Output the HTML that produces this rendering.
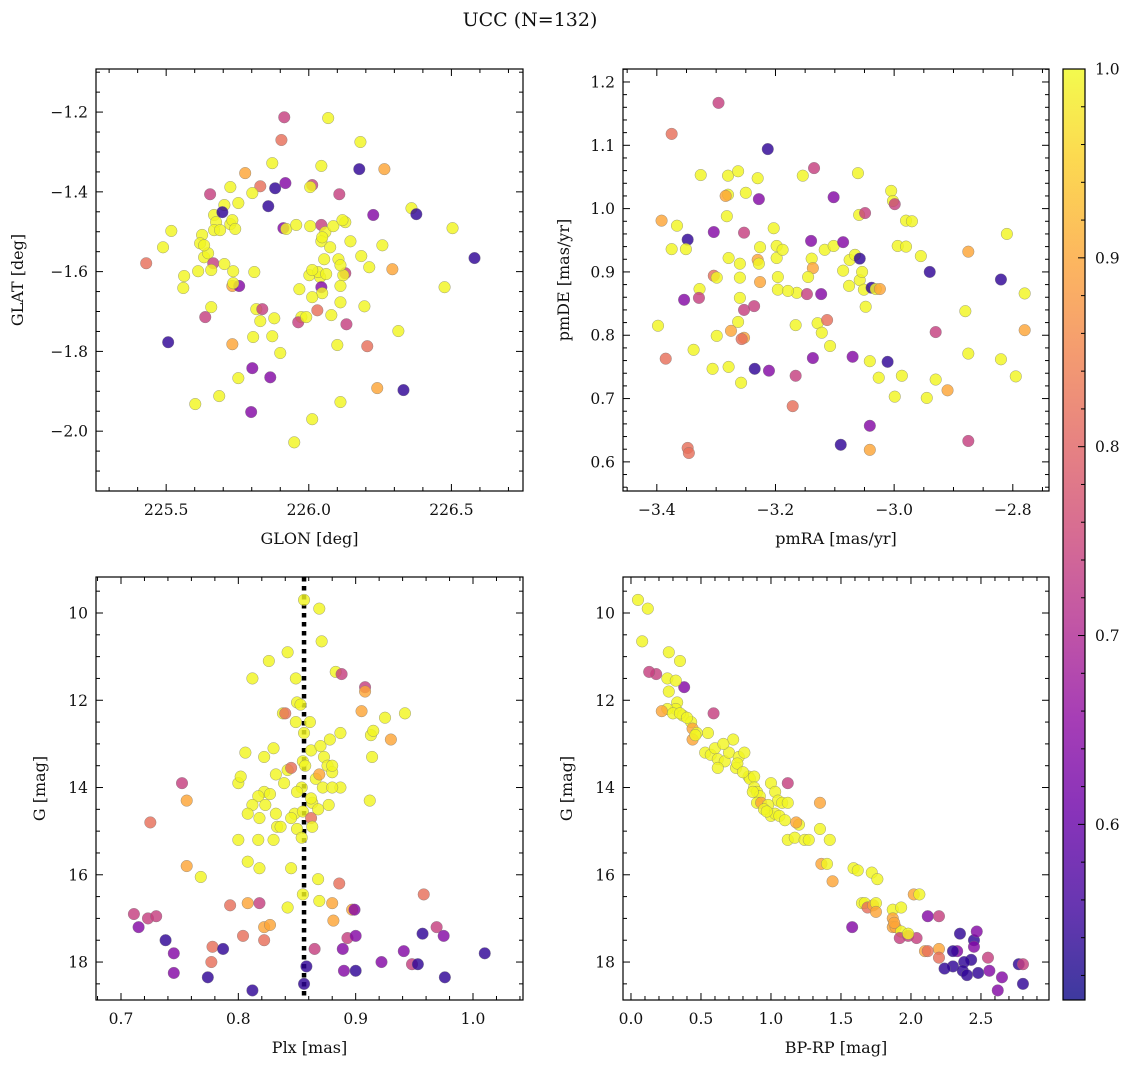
<!DOCTYPE html>
<html><head><meta charset="utf-8">
<style>
html,body{margin:0;padding:0;background:#fff;}
svg text{font-family:"DejaVu Serif","Liberation Serif",serif;fill:#111;}
</style></head>
<body>
<svg id="fig" width="1136" height="1068" viewBox="0 0 1136 1068" xmlns="http://www.w3.org/2000/svg">
<defs>
<linearGradient id="plasma" x1="0" y1="1" x2="0" y2="0">
<stop offset="0" stop-color="#0d0887"/><stop offset="0.1" stop-color="#41049d"/><stop offset="0.2" stop-color="#6a00a8"/><stop offset="0.3" stop-color="#8f0da4"/><stop offset="0.4" stop-color="#b12a90"/><stop offset="0.5" stop-color="#cc4778"/><stop offset="0.6" stop-color="#e16462"/><stop offset="0.7" stop-color="#f2844b"/><stop offset="0.8" stop-color="#fca636"/><stop offset="0.9" stop-color="#fcce25"/><stop offset="1" stop-color="#f0f921"/>
</linearGradient>
</defs>
<text x="530" y="26" font-size="19" text-anchor="middle">UCC (N=132)</text>
</svg>
<script>
// ---------- data (estimated from reference) ----------
const Y=0.995,O=0.9,S=0.82,P=0.74,M=0.64,B=0.54;
const glonVals=[225.914,226.068,225.904,226.181,226.265,226.177,225.872,225.777,225.725,225.830,225.802,225.882,225.918,226.012,226.044,226.107,226.005,225.654,225.753,225.858,225.704,225.668,225.697,225.675,225.725,225.732,225.626,225.619,225.518,225.489,225.633,225.742,226.005,226.044,226.058,226.086,226.128,226.118,226.226,226.360,226.377,225.911,225.921,226.044,226.146,226.258,225.647,225.665,225.658,225.563,225.560,225.612,225.735,225.732,225.756,225.735,225.809,226.002,226.040,226.033,226.054,226.104,226.128,226.121,226.111,226.212,226.184,226.293,226.581,226.504,226.476,225.967,226.044,226.047,226.012,226.111,225.637,225.658,225.816,225.837,225.830,225.879,225.974,225.963,225.991,226.030,226.079,226.195,226.132,225.732,225.805,225.872,226.100,226.205,226.314,225.507,225.753,225.802,225.900,225.865,225.686,225.602,225.798,226.111,226.240,226.332,226.012,225.949,225.430,225.956,226.075,226.012,226.061,225.704,226.047,226.111,225.668,225.689,225.633];
const glatVals=[-1.213,-1.215,-1.270,-1.275,-1.343,-1.343,-1.328,-1.353,-1.388,-1.386,-1.403,-1.391,-1.378,-1.383,-1.335,-1.406,-1.388,-1.406,-1.428,-1.436,-1.433,-1.458,-1.451,-1.476,-1.481,-1.471,-1.508,-1.529,-1.498,-1.539,-1.564,-1.493,-1.486,-1.483,-1.501,-1.486,-1.476,-1.471,-1.458,-1.441,-1.456,-1.491,-1.493,-1.524,-1.524,-1.534,-1.554,-1.579,-1.596,-1.611,-1.641,-1.599,-1.599,-1.636,-1.636,-1.629,-1.601,-1.609,-1.614,-1.601,-1.569,-1.569,-1.604,-1.609,-1.584,-1.589,-1.561,-1.594,-1.566,-1.491,-1.639,-1.644,-1.639,-1.654,-1.664,-1.636,-1.714,-1.689,-1.694,-1.694,-1.724,-1.717,-1.714,-1.727,-1.714,-1.697,-1.709,-1.687,-1.732,-1.782,-1.764,-1.762,-1.784,-1.787,-1.749,-1.777,-1.867,-1.842,-1.804,-1.865,-1.912,-1.932,-1.952,-1.927,-1.892,-1.897,-1.970,-2.028,-1.579,-1.483,-1.539,-1.596,-1.606,-1.581,-1.514,-1.677,-1.496,-1.496,-1.534];
const probA=[P,Y,S,Y,O,B,Y,O,Y,S,Y,B,M,P,Y,P,Y,P,Y,B,Y,Y,B,Y,Y,Y,Y,Y,Y,Y,Y,Y,Y,P,Y,Y,Y,Y,M,Y,B,M,Y,Y,Y,Y,Y,P,Y,Y,Y,Y,Y,O,M,Y,Y,Y,Y,Y,Y,Y,P,Y,Y,Y,Y,O,B,Y,Y,Y,M,Y,Y,Y,P,Y,Y,P,Y,Y,Y,P,Y,S,Y,Y,P,O,Y,Y,Y,S,Y,B,Y,M,Y,M,Y,Y,M,Y,O,B,Y,Y,S,Y,Y,Y,Y,Y,Y,Y,Y,Y,Y];

const pmraVals=[-3.296,-3.375,-3.213,-3.392,-3.366,-3.348,-3.375,-3.351,-3.328,-3.329,-3.354,-3.398,-3.385,-3.338,-3.348,-3.346,-3.306,-3.304,-3.304,-3.299,-3.299,-3.326,-3.280,-3.263,-3.230,-3.280,-3.284,-3.282,-3.279,-3.250,-3.228,-3.203,-3.253,-3.226,-3.230,-3.228,-3.226,-3.260,-3.253,-3.263,-3.253,-3.236,-3.275,-3.260,-3.257,-3.279,-3.258,-3.235,-3.211,-3.260,-3.198,-3.198,-3.196,-3.196,-3.188,-3.164,-3.154,-3.140,-3.139,-3.137,-3.145,-3.147,-3.137,-3.166,-3.171,-3.166,-3.179,-3.129,-3.123,-3.122,-3.113,-3.117,-3.108,-3.102,-3.102,-3.135,-3.086,-3.090,-3.086,-3.075,-3.076,-3.070,-3.066,-3.059,-3.061,-3.058,-3.058,-3.054,-3.051,-3.049,-3.048,-3.041,-3.041,-3.038,-3.031,-3.024,-3.026,-3.041,-3.011,-3.005,-3.002,-2.999,-2.994,-2.999,-2.987,-2.980,-2.940,-2.930,-2.910,-2.945,-2.955,-2.970,-2.980,-2.930,-2.875,-2.880,-2.875,-2.875,-2.820,-2.820,-2.810,-2.780,-2.780,-2.795];
const pmdeVals=[1.167,1.118,1.094,0.981,0.973,0.951,0.936,0.936,0.873,0.859,0.856,0.815,0.763,0.777,0.622,0.614,0.747,0.963,0.894,0.891,0.799,1.053,1.052,1.059,1.048,1.022,1.020,0.988,0.922,1.025,1.015,0.969,0.962,0.939,0.919,0.913,0.884,0.859,0.840,0.821,0.796,0.846,0.807,0.913,0.794,0.750,0.725,0.747,0.744,0.891,0.941,0.922,0.892,0.872,0.935,0.867,1.052,0.949,0.921,0.906,0.892,0.865,0.764,0.736,0.688,0.816,0.870,0.819,0.865,0.804,0.824,0.935,0.783,1.018,0.941,1.064,0.902,0.627,0.947,0.919,0.878,0.766,0.927,0.990,1.056,0.921,0.887,0.900,0.872,0.993,0.845,0.657,0.759,0.875,0.873,0.873,0.733,0.619,0.758,1.028,1.012,1.007,0.941,0.703,0.736,0.981,0.900,0.805,0.713,0.701,0.925,0.980,0.940,0.730,0.932,0.838,0.771,0.633,0.888,0.762,0.960,0.866,0.808,0.735];
const probB=[P,S,B,O,Y,B,Y,Y,Y,P,M,Y,S,Y,S,S,Y,M,S,Y,Y,Y,Y,Y,Y,Y,O,Y,Y,Y,M,Y,P,Y,O,Y,O,Y,P,Y,O,P,O,Y,S,Y,Y,B,M,Y,Y,Y,Y,Y,Y,Y,Y,M,Y,O,Y,P,M,P,S,Y,Y,Y,M,Y,S,Y,Y,M,Y,P,Y,B,M,Y,Y,M,Y,Y,Y,B,Y,Y,Y,P,Y,M,Y,B,Y,O,Y,O,B,Y,Y,P,Y,Y,Y,Y,B,P,O,Y,Y,Y,Y,Y,O,Y,Y,P,B,Y,Y,Y,O,Y];

const plxVals=[0.856,0.869,0.871,0.842,0.826,0.812,0.849,0.883,0.888,0.908,0.908,0.850,0.853,0.838,0.840,0.849,0.861,0.905,0.925,0.942,0.887,0.913,0.915,0.930,0.856,0.830,0.862,0.870,0.878,0.806,0.822,0.855,0.873,0.914,0.876,0.857,0.842,0.845,0.866,0.869,0.880,0.832,0.800,0.802,0.839,0.887,0.854,0.872,0.822,0.817,0.827,0.850,0.812,0.823,0.863,0.877,0.912,0.808,0.832,0.848,0.855,0.868,0.845,0.862,0.818,0.850,0.833,0.863,0.800,0.817,0.830,0.854,0.808,0.818,0.845,0.756,0.768,0.855,0.868,0.886,0.842,0.869,0.880,0.897,0.899,0.793,0.808,0.818,0.804,0.822,0.827,0.822,0.893,0.881,0.889,0.865,0.958,0.969,0.975,0.957,0.941,0.948,0.953,0.976,1.010,0.922,0.890,0.900,0.858,0.856,0.812,0.774,0.777,0.778,0.787,0.745,0.745,0.738,0.752,0.756,0.725,0.711,0.715,0.723,0.730,0.900,0.880,0.836,0.862,0.880];
const gPlxVals=[9.7,9.9,10.65,10.9,11.1,11.5,11.5,11.35,11.4,11.7,11.8,12.05,12.1,12.3,12.3,12.5,12.5,12.25,12.4,12.3,12.75,12.8,12.7,12.9,12.75,13.1,13.15,13.05,12.9,13.2,13.3,13.4,13.3,13.3,13.5,13.5,13.6,13.55,13.8,13.7,13.65,13.7,13.9,13.75,13.9,14.0,14.0,14.0,14.1,14.2,14.15,14.1,14.4,14.4,14.35,14.4,14.3,14.6,14.6,14.6,14.55,14.5,14.7,14.7,14.7,14.95,14.9,14.9,15.2,15.2,15.2,15.15,15.7,15.85,15.85,15.8,16.05,16.45,16.1,16.2,16.75,16.6,16.65,16.8,16.8,16.7,16.65,16.65,17.4,17.2,17.15,17.5,17.45,17.05,17.7,17.7,16.45,17.2,17.4,17.35,17.75,18.05,18.05,18.35,17.8,18.0,18.2,18.2,18.1,18.5,18.65,18.35,18.0,17.65,17.7,17.8,18.25,17.5,13.9,14.3,14.8,16.9,17.2,17.0,16.95,17.4,14.0,14.9,14.25,13.5];
const probC=[Y,Y,Y,Y,Y,Y,Y,Y,P,P,O,Y,Y,Y,S,Y,Y,O,Y,Y,Y,Y,Y,O,Y,Y,Y,Y,Y,Y,Y,Y,Y,Y,Y,Y,Y,S,Y,O,Y,Y,Y,Y,Y,Y,Y,Y,Y,Y,Y,Y,Y,Y,Y,Y,Y,Y,Y,Y,Y,Y,Y,S,Y,Y,Y,Y,Y,Y,Y,Y,Y,Y,Y,O,Y,Y,Y,S,Y,Y,O,O,M,S,O,P,S,O,O,S,P,O,M,P,S,P,M,B,M,P,B,B,B,M,M,B,B,B,B,B,S,S,B,M,M,B,P,O,S,P,M,P,P,M,Y,Y,Y,Y];
const plxRef=[0.856];

const bprpVals=[0.05,0.12,0.08,0.27,0.35,0.26,0.18,0.38,0.32,0.27,0.33,0.32,0.26,0.22,0.30,0.37,0.35,0.43,0.44,0.47,0.44,0.59,0.53,0.57,0.60,0.62,0.67,0.62,0.70,0.73,0.77,0.81,0.75,0.76,0.84,0.85,0.88,0.88,0.90,0.92,0.87,0.90,0.93,1.00,1.03,1.05,1.08,0.98,1.00,1.03,1.06,1.10,1.12,1.12,1.20,1.18,1.35,1.35,1.12,1.17,1.24,1.27,1.42,1.36,1.40,1.44,1.59,1.62,1.72,1.76,1.58,1.65,1.67,1.69,1.73,1.75,1.87,1.93,1.87,1.87,1.89,1.93,1.92,1.98,2.04,2.02,2.06,2.12,2.20,2.10,2.12,2.20,2.20,2.33,2.35,2.45,2.47,2.45,2.43,2.38,2.30,2.37,2.40,2.48,2.55,2.56,2.65,2.62,2.77,2.80,2.80,2.30,2.24,1.98,1.88,0.95,0.97,0.80,0.66,0.55,0.46,1.75,0.13,0.40];
const gCmdVals=[9.7,9.9,10.65,10.9,11.1,11.5,11.4,11.7,11.55,11.8,12.05,12.2,12.2,12.25,12.3,12.35,12.3,12.5,12.65,12.75,12.9,12.3,13.2,13.25,13.1,13.35,13.4,13.55,13.2,12.9,13.3,13.2,13.55,13.45,13.75,13.8,13.75,14.0,14.1,14.2,14.1,14.35,14.35,13.9,14.1,14.3,14.35,14.4,14.65,14.6,14.65,14.75,13.9,14.35,14.85,14.8,14.35,14.95,15.2,15.15,15.2,15.2,15.2,15.75,15.75,16.15,15.85,15.9,15.95,16.1,17.2,16.65,16.65,16.75,16.7,16.65,16.8,16.75,17.0,17.2,17.2,17.3,17.45,17.4,17.45,16.45,16.45,16.95,16.95,17.75,17.75,17.7,17.9,17.75,17.35,17.5,17.3,17.65,17.95,18.0,18.1,18.2,18.3,18.25,17.9,18.2,18.35,18.65,18.05,18.05,18.5,17.75,18.15,17.35,17.1,14.5,14.55,13.65,13.0,12.75,12.8,16.85,11.35,12.4];
const probD=[Y,Y,Y,Y,Y,Y,P,M,Y,Y,Y,Y,Y,O,Y,Y,Y,Y,O,Y,O,P,Y,Y,Y,Y,Y,Y,Y,Y,Y,Y,Y,Y,Y,Y,Y,Y,Y,Y,Y,Y,O,Y,Y,Y,Y,Y,Y,Y,Y,Y,P,Y,Y,O,O,Y,Y,Y,Y,Y,Y,O,Y,O,Y,Y,Y,Y,M,Y,Y,S,O,Y,Y,Y,O,O,O,Y,P,P,P,O,Y,M,P,O,S,O,S,M,B,B,M,M,B,B,B,B,B,B,P,M,M,M,B,P,B,B,B,Y,O,Y,Y,Y,Y,Y,Y,O,P,Y];

const cbTicks=[0.6,0.7,0.8,0.9,1.0];

// ---------- rendering ----------
const NS='http://www.w3.org/2000/svg';
const svg=document.getElementById('fig');
function mk(tag,attrs,parent){const e=document.createElementNS(NS,tag);for(const k in attrs)e.setAttribute(k,attrs[k]);(parent||svg).appendChild(e);return e;}
const stops=[[0,[13,8,135]],[0.1,[65,4,157]],[0.2,[106,0,168]],[0.3,[143,13,164]],[0.4,[177,42,144]],[0.5,[204,71,120]],[0.6,[225,100,98]],[0.7,[242,132,75]],[0.8,[252,166,54]],[0.9,[252,206,37]],[1,[240,249,33]]];
const VMIN=0.507,VMAX=1.0;
function plasma(v){let t=(v-VMIN)/(VMAX-VMIN);t=Math.max(0,Math.min(1,t));for(let i=1;i<stops.length;i++){if(t<=stops[i][0]){const a=stops[i-1],b=stops[i];const f=(t-a[0])/(b[0]-a[0]);const c=a[1].map((x,j)=>Math.round(x+(b[1][j]-x)*f));return `rgb(${c[0]},${c[1]},${c[2]})`;}}return 'rgb(240,249,33)';}
function fmt(v,d){const s=Math.abs(v).toFixed(d);return (v<-1e-9?'\u2212':'')+s;}

function panel(o){
  const g=mk('g',{});
  
  
  const sx=v=>o.x0+(v-o.xmin)/(o.xmax-o.xmin)*(o.x1-o.x0);
  const sy=o.yinv?(v=>o.y0+(v-o.ymin)/(o.ymax-o.ymin)*(o.y1-o.y0)):(v=>o.y1-(v-o.ymin)/(o.ymax-o.ymin)*(o.y1-o.y0));
  const clip='clip-'+o.name;
  const cp=mk('clipPath',{id:clip},g);mk('rect',{x:o.x0,y:o.y0,width:o.x1-o.x0,height:o.y1-o.y0},cp);
  const pts=mk('g',{'clip-path':`url(#${clip})`},g);
  if(o.vline){const l=mk('line',{x1:sx(o.vline[0]),x2:sx(o.vline[0]),y1:o.y0,y2:o.y1,stroke:'#000','stroke-width':4.5,'stroke-dasharray':'4.5,4.5'},pts);
    
    }
  for(let i=0;i<o.xs.length;i++){
    const c=mk('circle',{cx:sx(o.xs[i]),cy:sy(o.ys[i]),r:5.8,fill:plasma(o.cs[i]),'fill-opacity':0.82,stroke:'#777','stroke-width':0.5,'stroke-opacity':0.7},pts);
    
    
  }
  const tk=mk('g',{stroke:'#000','stroke-width':1},g);
  const eps=1e-9;
  for(let v=Math.ceil(o.xmin/o.xminor-eps)*o.xminor;v<=o.xmax+eps;v+=o.xminor){
    const isMaj=Math.abs(v/o.xmajor-Math.round(v/o.xmajor))<1e-6;const L=isMaj?7:4;const X=sx(v);
    mk('line',{x1:X,x2:X,y1:o.y1,y2:o.y1-L},tk);mk('line',{x1:X,x2:X,y1:o.y0,y2:o.y0+L},tk);
  }
  for(let v=Math.ceil(o.ymin/o.yminor-eps)*o.yminor;v<=o.ymax+eps;v+=o.yminor){
    const isMaj=Math.abs(v/o.ymajor-Math.round(v/o.ymajor))<1e-6;const L=isMaj?7:4;const Yp=sy(v);
    mk('line',{x1:o.x0,x2:o.x0+L,y1:Yp,y2:Yp},tk);mk('line',{x1:o.x1,x2:o.x1-L,y1:Yp,y2:Yp},tk);
  }
  o.xticks.forEach(v=>{const t=mk('text',{x:sx(v),y:o.y1+24,'font-size':15.5,'text-anchor':'middle'},g);t.textContent=fmt(v,o.xd);
    
    });
  o.yticks.forEach(v=>{const t=mk('text',{x:o.x0-8,y:sy(v)+5.5,'font-size':15.5,'text-anchor':'end'},g);t.textContent=fmt(v,o.yd);
    
    });
  mk('rect',{x:o.x0,y:o.y0,width:o.x1-o.x0,height:o.y1-o.y0,fill:'none',stroke:'#000','stroke-width':1.2},g);
  const xl=mk('text',{x:(o.x0+o.x1)/2,y:o.y1+53,'font-size':16,'text-anchor':'middle'},g);xl.textContent=o.xlabel;
  
  
  const yl=mk('text',{x:0,y:0,'font-size':16,'text-anchor':'middle',transform:`translate(${o.ylx},${(o.y0+o.y1)/2}) rotate(-90)`},g);yl.textContent=o.ylabel;
  
  
}

panel({name:'panel-sky-position',x0:96,x1:523,y0:69,y1:491,xmin:225.254,xmax:226.751,ymin:-2.150,ymax:-1.092,xs:glonVals,ys:glatVals,cs:probA,xmajor:0.5,xminor:0.1,ymajor:0.2,yminor:0.05,xticks:[225.5,226.0,226.5],yticks:[-2.0,-1.8,-1.6,-1.4,-1.2],xd:1,yd:1,xlabel:'GLON [deg]',ylabel:'GLAT [deg]',ylx:23});
panel({name:'panel-proper-motion',x0:623,x1:1049,y0:69,y1:491,xmin:-3.457,xmax:-2.739,ymin:0.554,ymax:1.2205,xs:pmraVals,ys:pmdeVals,cs:probB,xmajor:0.2,xminor:0.05,ymajor:0.1,yminor:0.02,xticks:[-3.4,-3.2,-3.0,-2.8],yticks:[0.6,0.7,0.8,0.9,1.0,1.1,1.2],xd:1,yd:1,xlabel:'pmRA [mas/yr]',ylabel:'pmDE [mas/yr]',ylx:569});
panel({name:'panel-parallax-magnitude',x0:96,x1:523,y0:577,y1:1000,xmin:0.6787,xmax:1.0426,ymin:9.175,ymax:18.87,yinv:true,xs:plxVals,ys:gPlxVals,cs:probC,vline:plxRef,xmajor:0.1,xminor:0.02,ymajor:2,yminor:0.5,xticks:[0.7,0.8,0.9,1.0],yticks:[10,12,14,16,18],xd:1,yd:0,xlabel:'Plx [mas]',ylabel:'G [mag]',ylx:45});
panel({name:'panel-color-magnitude',x0:623,x1:1049,y0:577,y1:1000,xmin:-0.057,xmax:2.986,ymin:9.175,ymax:18.87,yinv:true,xs:bprpVals,ys:gCmdVals,cs:probD,xmajor:0.5,xminor:0.1,ymajor:2,yminor:0.5,xticks:[0,0.5,1.0,1.5,2.0,2.5],yticks:[10,12,14,16,18],xd:1,yd:0,xlabel:'BP-RP [mag]',ylabel:'G [mag]',ylx:572});

const cb=mk('g',{});


const cx0=1063,cx1=1085,cy0=69,cy1=1000;
const cbY=v=>cy1-(v-VMIN)/(VMAX-VMIN)*(cy1-cy0);
mk('rect',{x:cx0,y:cy0,width:cx1-cx0,height:cy1-cy0,fill:'url(#plasma)','fill-opacity':0.8},cb);
for(let v=0.52;v<=1.0001;v+=0.02){const isMaj=Math.abs(v*10-Math.round(v*10))<1e-6;const L=isMaj?7:4;mk('line',{x1:cx1,x2:cx1-L,y1:cbY(v),y2:cbY(v),stroke:'#000','stroke-width':1},cb);}
cbTicks.forEach(v=>{const t=mk('text',{x:cx1+10,y:cbY(v)+5.5,'font-size':15.5},cb);t.textContent=v.toFixed(1);
  
  });
mk('rect',{x:cx0,y:cy0,width:cx1-cx0,height:cy1-cy0,fill:'none',stroke:'#000','stroke-width':1.2},cb);
</script>
</body></html>
